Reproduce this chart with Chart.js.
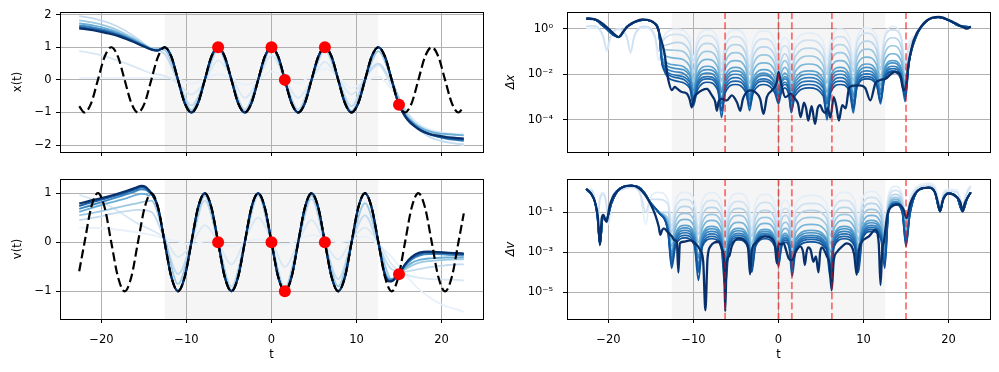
<!DOCTYPE html>
<html>
<head>
<meta charset="utf-8">
<script src="https://cdn.jsdelivr.net/npm/chart.js@4.4.1/dist/chart.umd.min.js"></script>
<style>
    html, body { margin: 0; padding: 0; background: #fff; }
    #fig { position: relative; width: 999px; height: 372px; overflow: hidden; }
    #fig canvas { position: absolute; }
</style>
</head>
<body>
<div id="fig">
    <canvas id="cX" width="495" height="165" style="left:0px;top:0px"></canvas>
    <canvas id="cV" width="495" height="207" style="left:0px;top:165px"></canvas>
    <canvas id="cDX" width="504" height="165" style="left:495px;top:0px"></canvas>
    <canvas id="cDV" width="504" height="207" style="left:495px;top:165px"></canvas>
</div>
<script>
// ---- axes ----
const tRange = [-24.88, 24.88];
const tTicks = [-20, -10, 0, 10, 20];
const shadeSpan = [-12.57, 12.57];
const xRange = [-2.21, 2.08];
const xTicks = [-2, -1, 0, 1, 2];
const vRange = [-1.565, 1.29];
const vTicks = [-1, 0, 1];
const dxRangeLog = [-5.41, 0.73];
const dxTicks = [1e-4, 1e-2, 1];
const dxTickLabels = ['10\u207B\u2074', '10\u207B\u00B2', '10\u2070'];
const dvRangeLog = [-6.33, 0.665];
const dvTicks = [1e-5, 1e-3, 1e-1];
const dvTickLabels = ['10\u207B\u2075', '10\u207B\u00B3', '10\u207B\u00B9'];

// ---- observations (red points / red dashed lines) ----
const obsT = [-6.28, 0, 1.57, 6.28, 15.0];
const obsX = [1, 1, 0, 1, -0.76];
const obsV = [0, 0, -1, 0, -0.65];

// ---- exact solution, read at quarter-half-period steps ----
const tGrid = [-22.62, -21.99, -21.21, -20.42, -19.63, -18.85, -18.06, -17.28, -16.49, -15.71, -14.92, -14.14, -13.35, -12.57, -11.78, -11.0, -10.21, -9.42, -8.64, -7.85, -7.07, -6.28, -5.5, -4.71, -3.93, -3.14, -2.36, -1.57, -0.79,
    0, 0.79, 1.57, 2.36, 3.14, 3.93, 4.71, 5.5, 6.28, 7.07, 7.85, 8.64, 9.42, 10.21, 11.0, 11.78, 12.57, 13.35, 14.14, 14.92, 15.71, 16.49, 17.28, 18.06, 18.85, 19.63, 20.42, 21.21, 21.99, 22.62];
const xTrue = [-0.81, -1, -0.71, 0, 0.71, 1, 0.71, 0, -0.71, -1, -0.71, 0, 0.71, 1, 0.71, 0, -0.71, -1, -0.71, 0, 0.71, 1, 0.71, 0, -0.71, -1, -0.71, 0, 0.71,
    1, 0.71, 0, -0.71, -1, -0.71, 0, 0.71, 1, 0.71, 0, -0.71, -1, -0.71, 0, 0.71, 1, 0.71, 0, -0.71, -1, -0.71, 0, 0.71, 1, 0.71, 0, -0.71, -1, -0.81];
const vTrue = [-0.59, 0, 0.71, 1, 0.71, 0, -0.71, -1, -0.71, 0, 0.71, 1, 0.71, 0, -0.71, -1, -0.71, 0, 0.71, 1, 0.71, 0, -0.71, -1, -0.71, 0, 0.71, 1, 0.71,
    0, -0.71, -1, -0.71, 0, 0.71, 1, 0.71, 0, -0.71, -1, -0.71, 0, 0.71, 1, 0.71, 0, -0.71, -1, -0.71, 0, 0.71, 1, 0.71, 0, -0.71, -1, -0.71, 0, 0.59];

const xFollow = [-12.57, 14.92];
const xTailLT = [-22.62, -21.0, -19.5, -18.0, -16.5, -15.0, -14.0, -13.4];
const xTailRT = [15.4, 16.0, 16.8, 17.6, 18.5, 19.5, 20.5, 21.5, 22.62];
const xDarkL = [1.58, 1.52, 1.44, 1.34, 1.19, 1.02, 0.92, 0.90];
const xDarkR = [-0.98, -1.22, -1.42, -1.56, -1.65, -1.71, -1.75, -1.78, -1.80];
const xFit1L = [1.62, 1.56, 1.48, 1.37, 1.21, 1.03, 0.92, 0.90];
const xFit1R = [-0.97, -1.2, -1.4, -1.55, -1.66, -1.73, -1.78, -1.81, -1.83];
const xFit2L = [1.67, 1.61, 1.52, 1.40, 1.24, 1.05, 0.93, 0.90];
const xFit2R = [-0.96, -1.18, -1.38, -1.53, -1.65, -1.74, -1.8, -1.84, -1.87];
const xFit3L = [1.73, 1.67, 1.58, 1.45, 1.27, 1.07, 0.94, 0.90];
const xFit3R = [-0.95, -1.15, -1.33, -1.47, -1.57, -1.63, -1.66, -1.68, -1.70];

// early fits, read at extrema / zero crossings
const tq = [-22.62, -21.99, -20.42, -18.85, -17.28, -15.71, -14.14, -12.57, -11.0, -9.42, -7.85, -6.28, -4.71, -3.14, -1.57, 0, 1.57, 3.14, 4.71, 6.28, 7.85, 9.42, 11.0, 12.57, 14.14, 15.71, 17.28, 18.85, 20.42, 21.99, 22.62];
const xFit4 = [1.82, 1.80, 1.72, 1.60, 1.42, 1.20, 0.97, 0.92, 0.0, -0.92, 0.0, 1.0, 0.0, -0.97, 0.0, 1.0, 0.0, -0.98, 0.0, 1.0, 0.0, -0.95, 0.0, 0.88, 0.0, -1.0, -1.45, -1.62, -1.72, -1.78, -1.80];
const xFit5 = [1.95, 1.93, 1.85, 1.72, 1.52, 1.25, 0.95, 0.80, -0.05, -0.78, -0.05, 0.92, 0.0, -0.9, 0.0, 0.98, 0.0, -0.9, 0.0, 0.9, 0.0, -0.8, 0.05, 0.5, -0.1, -0.9, -1.5, -1.78, -1.9, -1.96, -1.97];
const xFit6 = [0.88, 0.86, 0.78, 0.66, 0.52, 0.36, 0.2, 0.12, -0.1, -0.45, -0.05, 0.6, 0.1, -0.55, 0.0, 0.75, 0.05, -0.55, 0.0, 0.55, 0.05, -0.45, 0.05, 0.45, -0.2, -0.9, -1.35, -1.55, -1.63, -1.66, -1.67];
const xFit7 = [0.06, 0.06, 0.06, 0.06, 0.06, 0.06, 0.06, 0.06, 0.02, -0.12, 0.02, 0.18, 0.05, -0.15, 0.0, 0.25, 0.1, -0.1, 0.15, 0.35, 0.1, -0.25, -0.05, 0.1, -0.3, -0.9, -1.45, -1.75, -1.9, -1.97, -2.0];

// ---- fitted v(t) ----
const vFollow = [-14.14, 12.57];
const vTailLT = [-22.62, -21.5, -20.0, -18.5, -17.0, -16.0, -15.3, -14.8, -14.4];
const vTailRT = [13.35, 13.9, 14.3, 15.0, 15.7, 16.5, 17.4, 18.5, 19.5, 20.5, 21.5, 22.62];
const vDarkL = [0.79, 0.84, 0.90, 0.97, 1.05, 1.11, 1.15, 1.13, 1.06];
const vDarkR = [-0.68, -0.8, -0.78, -0.65, -0.45, -0.3, -0.21, -0.19, -0.2, -0.21, -0.22, -0.23];
const vFit1L = [0.74, 0.80, 0.87, 0.94, 1.02, 1.08, 1.12, 1.10, 1.04];
const vFit1R = [-0.66, -0.79, -0.77, -0.64, -0.46, -0.32, -0.24, -0.21, -0.21, -0.22, -0.23, -0.24];
const vFit2L = [0.68, 0.74, 0.82, 0.90, 0.98, 1.04, 1.08, 1.07, 1.02];
const vFit2R = [-0.64, -0.78, -0.76, -0.64, -0.48, -0.35, -0.27, -0.24, -0.24, -0.25, -0.26, -0.27];
const vFit3L = [0.62, 0.68, 0.76, 0.83, 0.90, 0.96, 0.99, 0.98, 0.95];
const vFit3R = [-0.62, -0.75, -0.74, -0.65, -0.52, -0.42, -0.36, -0.33, -0.32, -0.31, -0.31, -0.31];
const vFit4 = [0.55, 0.57, 0.62, 0.68, 0.74, 0.8, 0.85, 0.1, -0.85, 0, 0.95, 0, -0.97, 0, 0.98, 0, -0.97, 0, 0.95, 0, -0.9, 0, 0.8, 0, -0.75, -0.55, -0.42, -0.38, -0.36, -0.35, -0.35];
const vFit5 = [0.45, 0.47, 0.52, 0.58, 0.63, 0.66, 0.62, 0.05, -0.65, 0, 0.85, 0, -0.9, 0, 0.95, 0, -0.92, 0, 0.88, 0, -0.75, 0, 0.55, -0.05, -0.55, -0.6, -0.55, -0.5, -0.47, -0.45, -0.45];
const vFit6 = [0.97, 0.93, 0.85, 0.72, 0.55, 0.38, 0.25, 0.08, -0.3, -0.05, 0.35, 0, -0.45, 0.05, 0.5, 0.05, -0.5, 0, 0.45, 0, -0.35, 0.05, 0.3, 0, -0.45, -0.65, -0.72, -0.75, -0.76, -0.77, -0.78];
const vFit7 = [0.3, 0.3, 0.29, 0.27, 0.24, 0.2, 0.15, 0.08, 0.02, -0.05, 0.02, 0.0, -0.08, 0.0, 0.06, 0.02, -0.05, 0.05, 0.15, 0.08, 0.0, 0.05, 0.12, -0.05, -0.3, -0.65, -0.95, -1.15, -1.3, -1.38, -1.42];

// ---- error |x_fit - x|, in decades (log10) ----
const dxNavyT = [-22.62, -21.5, -20.8, -20.0, -19.3, -18.8, -18.3, -17.6, -16.8, -16.0, -15.4, -14.8, -14.3, -13.8, -13.4, -13.1, -12.9, -12.55, -12.2, -11.96,
    -11.37, -10.78, -10.45, -10.2, -9.9, -9.6, -9.0, -8.42, -7.84, -7.45, -7.25, -7.05, -6.66, -6.08, -5.49, -4.9, -4.5, -4.2, -3.9, -3.33,
    -2.75, -2.16, -1.76, -1.37, -0.78, -0.2, 0.0, 0.2, 0.4, 0.8, 1.1, 1.4, 1.7, 2.0, 2.3, 2.6, 3.0, 3.25, 3.5, 3.9,
    4.3, 4.6, 4.9, 5.2, 5.5, 5.8, 6.1, 6.5, 6.8, 7.1, 7.5, 7.9, 8.3, 8.9, 9.5, 10.2, 10.8, 11.4, 12.0, 12.6,
    13.2, 13.7, 14.3, 14.7, 14.95, 15.3, 15.9, 16.9, 18.1, 18.9, 20.1, 21.0, 21.7, 22.2, 22.62];
const dxNavyL = [0.44, 0.40, 0.25, 0.0, -0.25, -0.37, -0.15, 0.15, 0.32, 0.40, 0.38, 0.30, 0.10, -0.5, -1.1, -1.95, -2.35, -2.7, -2.55, -2.62,
    -2.78, -2.85, -3.1, -3.45, -3.0, -2.86, -2.7, -2.64, -2.93, -3.2, -3.6, -3.2, -3.08, -3.15, -2.93, -3.22, -3.6, -3.1, -2.86, -2.71,
    -2.78, -3.08, -3.74, -3.0, -2.71, -2.35, -1.9, -2.2, -2.57, -3.0, -2.95, -2.85, -2.95, -3.1, -3.3, -3.88, -3.25, -3.5, -4.03, -3.4,
    -4.18, -3.5, -3.35, -3.6, -3.7, -3.5, -3.9, -3.0, -3.4, -4.03, -3.35, -3.5, -2.6, -2.5, -2.49, -2.6, -3.15, -2.4, -2.25, -2.2,
    -2.0, -1.9, -2.0, -2.71, -2.6, -1.54, -0.51, 0.15, 0.48, 0.51, 0.36, 0.2, 0.07, 0.0, 0.1];

// earlier fits: arches between shared cusps
const dxArcT = [-22.62, -21.6, -20.65, -20.2, -19.75, -18.8, -17.85, -17.4, -16.95, -15.75, -14.55, -14.1,
    -13.65, -12.0, -10.45, -10.0, -9.55, -8.35, -7.15, -6.7, -6.25, -5.05, -3.85, -3.4, -2.95, -1.7, -0.45, 0.0, 0.3, 0.75, 1.2, 1.5,
    1.95, 3.6, 5.25, 5.7, 6.15, 7.25, 8.35, 8.8, 9.25, 10.4, 11.55, 12.0, 12.45, 13.45, 14.45, 14.9, 15.35,
    16.3, 17.5, 18.8, 20.0, 21.5, 22.62];
const dxLeftShared = [0.44, 0.40, 0.12, -0.02, -0.18, -0.37, 0.08, 0.18, 0.28, 0.38, 0.22, -0.07];
const dxRightShared = [-0.25, 0.35, 0.5, 0.37, 0.1, 0.08];
const dxLeftA = [0.0, 0.03, -0.35, -1.0, -0.4, -0.03, -0.4, -1.1, -0.35, 0.03, -0.4, -1.4];
const dxLeftB = [0.1, 0.12, -0.3, -0.9, -0.3, 0.0, -0.35, -1.0, -0.3, 0.1, -0.3, -1.0];
const dxMidA = [-0.45, -0.02, -0.4, -1.3, -0.45, -0.05, -0.45, -1.3, -0.45, -0.05, -0.45, -1.4, -0.5, -0.1, -0.5, -1.3, -0.6, -0.4, -0.6, -1.4, -0.55, -0.2, -0.55, -1.4, -0.45, -0.02, -0.4, -1.3, -0.4, 0.02, -0.35, -1.3, -0.35, 0.1, -0.35, -1.5, -0.6];
const dxMidB = [-0.55, -0.25, -0.65, -1.5, -0.7, -0.3, -0.7, -1.6, -0.75, -0.35, -0.75, -1.7, -0.85, -0.45, -0.85, -1.6, -0.95, -0.75, -0.95, -1.8, -0.9, -0.5, -0.9, -1.8, -0.75, -0.35, -0.75, -1.6, -0.6, -0.2, -0.6, -1.5, -0.45, -0.05, -0.45, -1.6, -0.8];
const dxMidC = [-0.75, -0.6, -1.0, -1.9, -1.05, -0.65, -1.05, -1.9, -1.1, -0.7, -1.1, -2.0, -1.2, -0.8, -1.2, -1.9, -1.4, -1.1, -1.4, -2.1, -1.25, -0.85, -1.25, -2.0, -1.1, -0.7, -1.1, -1.9, -0.95, -0.55, -0.95, -1.8, -0.8, -0.4, -0.8, -1.8, -1.2];
const dxMidD = [-0.9, -0.95, -1.35, -2.3, -1.4, -1.0, -1.4, -2.3, -1.45, -1.05, -1.45, -2.4, -1.55, -1.15, -1.55, -2.3, -1.7, -1.4, -1.7, -2.5, -1.6, -1.2, -1.6, -2.4, -1.45, -1.05, -1.45, -2.3, -1.3, -0.9, -1.3, -2.2, -1.15, -0.75, -1.15, -2.1, -1.3];
const dxMidE = [-1.1, -1.3, -1.65, -2.6, -1.7, -1.35, -1.7, -2.7, -1.75, -1.4, -1.75, -2.7, -1.85, -1.5, -1.85, -2.6, -2.0, -1.7, -2.0, -2.8, -1.9, -1.55, -1.9, -2.8, -1.75, -1.4, -1.75, -2.6, -1.6, -1.25, -1.6, -2.5, -1.45, -1.1, -1.45, -2.4, -1.35];
const dxMidF = [-1.3, -1.6, -1.95, -2.9, -2.0, -1.65, -2.0, -3.1, -2.05, -1.7, -2.05, -3.0, -2.15, -1.8, -2.15, -2.8, -2.25, -1.95, -2.25, -3.1, -2.2, -1.85, -2.2, -3.2, -2.05, -1.7, -2.05, -3.0, -1.9, -1.55, -1.9, -2.8, -1.75, -1.4, -1.75, -2.7, -1.4];
const dxMidF2 = [-1.4, -1.75, -2.05, -2.7, -2.1, -1.8, -2.1, -2.8, -2.2, -1.85, -2.2, -2.9, -2.3, -1.95, -2.3, -2.7, -2.35, -2.1, -2.35, -3.0, -2.35, -2.0, -2.35, -3.1, -2.2, -1.85, -2.2, -2.9, -2.05, -1.7, -2.05, -2.7, -1.85, -1.5, -1.85, -2.6, -1.42];
const dxMidG = [-1.5, -1.9, -2.25, -3.2, -2.3, -1.95, -2.3, -3.6, -2.35, -2.0, -2.35, -3.3, -2.4, -2.05, -2.4, -3.0, -2.45, -2.2, -2.45, -3.4, -2.5, -2.15, -2.5, -3.6, -2.35, -2.0, -2.35, -3.4, -2.2, -1.85, -2.2, -3.1, -2.0, -1.65, -2.0, -3.0, -1.45];
const dxMidG2 = [-1.55, -2.05, -2.35, -3.0, -2.4, -2.1, -2.4, -3.3, -2.5, -2.15, -2.5, -3.1, -2.5, -2.2, -2.5, -2.9, -2.55, -2.35, -2.6, -3.2, -2.65, -2.3, -2.6, -3.3, -2.5, -2.15, -2.5, -3.2, -2.3, -1.98, -2.3, -2.9, -2.1, -1.75, -2.1, -2.9, -1.48];
const dxMidH = [-1.6, -2.15, -2.5, -3.4, -2.55, -2.2, -2.55, -3.9, -2.65, -2.3, -2.65, -3.6, -2.65, -2.3, -2.65, -3.2, -2.7, -2.45, -2.7, -3.7, -2.8, -2.45, -2.8, -4.0, -2.65, -2.3, -2.65, -3.7, -2.45, -2.1, -2.45, -3.3, -2.2, -1.85, -2.2, -3.2, -1.5];
const dxMidH2 = [-1.65, -2.3, -2.6, -3.3, -2.7, -2.35, -2.7, -3.6, -2.8, -2.45, -2.8, -3.4, -2.8, -2.45, -2.8, -3.3, -2.85, -2.6, -2.9, -3.6, -2.95, -2.6, -2.95, -3.8, -2.8, -2.45, -2.75, -3.5, -2.55, -2.2, -2.5, -3.2, -2.25, -1.9, -2.25, -3.0, -1.5];

// ---- error |v_fit - v|, in decades ----
const dvNavyT = [-22.62, -22.0, -21.6, -21.25, -21.0, -20.8, -20.6, -20.35, -20.2, -19.9, -19.5, -19.0, -18.2, -17.3, -16.4, -15.7, -15.1, -14.5, -14.1, -13.9,
    -13.7, -13.5, -13.0, -12.55, -12.2, -11.96, -11.78, -11.6, -11.2, -10.4, -9.8, -9.2, -8.85, -8.6, -8.35, -8.0, -7.5, -7.0, -6.6, -6.4,
    -6.27, -6.1, -5.8, -5.5, -4.7, -3.9, -3.55, -3.35, -3.15, -2.75, -1.6, -0.8, -0.4, -0.2, 0.0, 0.2, 0.6, 0.9, 1.2, 1.6,
    2.0, 2.55, 2.9, 3.1, 3.3, 3.5, 3.8, 4.1, 4.4, 4.7, 4.9, 5.1, 5.7, 6.0, 6.25, 6.5, 6.9, 7.5, 8.0, 8.6,
    8.9, 9.2, 9.45, 9.8, 10.6, 11.4, 11.8, 12.0, 12.2, 12.4, 12.8, 13.3, 14.1, 14.7, 15.05, 15.5, 16.5, 17.7, 18.4, 18.75,
    19.0, 19.3, 20.0, 21.0, 21.4, 21.65, 21.9, 22.2, 22.62];
const dvNavyL = [0.17, -0.1, -0.47, -1.2, -2.64, -1.3, -1.13, -1.4, -1.47, -0.75, -0.25, 0.05, 0.28, 0.33, 0.2, -0.13, -0.55, -1.13, -1.7, -2.13,
    -1.9, -1.8, -2.0, -2.2, -2.4, -2.47, -4.0, -2.55, -2.47, -2.4, -2.55, -2.9, -3.5, -5.9, -3.3, -2.7, -2.5, -2.47, -2.9, -3.3,
    -5.95, -3.5, -3.2, -2.7, -2.3, -2.47, -2.9, -4.1, -2.95, -2.55, -2.2, -2.3, -2.7, -3.55, -2.55, -2.6, -2.55, -2.9, -3.3, -3.4,
    -3.0, -2.7, -3.0, -3.63, -3.0, -2.75, -2.9, -3.47, -3.2, -4.0, -3.0, -2.75, -3.2, -3.6, -4.9, -3.4, -2.97, -2.7, -2.55, -2.7,
    -3.1, -4.13, -2.9, -2.47, -2.22, -1.88, -2.6, -4.63, -2.9, -2.47, -1.13, -0.72, -0.6, -0.85, -1.3, -0.55, 0.12, 0.23, 0.0, -0.5,
    -0.95, -0.45, -0.05, -0.25, -0.5, -0.95, -0.55, -0.3, 0.0];

const dvArcT = [-22.62, -22.0, -21.6, -21.3, -21.0, -20.65, -20.3, -20.0, -19.65, -18.6, -17.3, -16.3, -15.6, -15.1, -14.1,
    -13.0, -12.57, -12.1, -11.0, -9.9, -9.42, -8.95, -7.85, -6.75, -6.28, -5.8, -4.71, -3.6, -3.14, -2.7, -1.57, -0.45, 0.0, 0.35, 0.8,
    1.25, 1.6, 2.05, 3.85, 5.65, 6.1, 6.55, 7.75, 8.95, 9.4, 9.85, 10.95, 12.05, 12.5, 12.95, 13.75, 14.55, 15.0, 15.45,
    16.5, 17.7, 18.4, 19.0, 19.4, 20.0, 21.0, 21.65, 22.2, 22.62];
const dvLeftShared = [0.17, -0.1, -0.47, -1.2, -2.6, -1.2, -1.4, -1.1, -0.55, 0.2, 0.33, 0.22, -0.13, -0.5, -1.0];
const dvRightShared = [0.12, 0.23, 0.0, -0.95, -0.3, -0.05, -0.25, -0.95, -0.3, 0.0];
const dvLeftA = [0.1, 0.15, -0.3, -1.3, -0.2, 0.0, -0.3, -1.3, -0.3, 0.2, 0.3, -0.1, -1.6, -0.3, 0.0];
const dvLeftB = [0.0, 0.1, -0.4, -1.5, -0.35, -0.1, -0.45, -1.6, -0.4, 0.1, 0.25, 0.0, -1.0, -0.35, -0.35];
const dvRightA = [0.35, 0.45, 0.3, -0.6, 0.0, 0.15, 0.1, -0.5, 0.1, 0.35];
const dvRightB = [0.25, 0.35, 0.2, -0.8, -0.1, 0.05, 0.0, -0.7, 0.0, 0.25];
const dvMidA = [-0.4, -1.4, -0.4, 0.0, -0.4, -1.4, -0.42, -0.02, -0.42, -1.5, -0.45, -0.05, -0.45, -1.5, -0.5, -0.1, -0.55, -1.5, -0.65, -0.4, -0.65, -1.6, -0.55, -0.15, -0.55, -1.5, -0.4, 0.0, -0.4, -1.4, -0.35, 0.05, -0.35, -1.3, -0.1, 0.3, -0.1, -1.2, -0.3];
const dvMidB = [-0.6, -1.7, -0.75, -0.35, -0.75, -1.8, -0.8, -0.4, -0.8, -1.85, -0.85, -0.45, -0.85, -1.9, -0.9, -0.5, -0.9, -1.9, -1.05, -0.8, -1.05, -2.0, -0.95, -0.55, -0.95, -1.9, -0.8, -0.4, -0.8, -1.7, -0.65, -0.25, -0.65, -1.6, -0.3, 0.1, -0.3, -1.4, -0.5];
const dvMidC = [-1.0, -2.0, -1.1, -0.7, -1.1, -2.1, -1.15, -0.75, -1.15, -2.2, -1.2, -0.8, -1.2, -2.2, -1.3, -0.9, -1.3, -2.3, -1.4, -1.15, -1.4, -2.4, -1.3, -0.9, -1.3, -2.2, -1.15, -0.75, -1.15, -2.0, -0.95, -0.55, -0.95, -1.9, -0.5, -0.1, -0.5, -1.6, -0.7];
const dvMidD = [-1.3, -2.4, -1.45, -1.05, -1.45, -2.5, -1.5, -1.1, -1.5, -2.6, -1.55, -1.15, -1.55, -2.6, -1.65, -1.25, -1.65, -2.7, -1.75, -1.5, -1.75, -2.8, -1.65, -1.25, -1.65, -2.6, -1.5, -1.1, -1.5, -2.4, -1.25, -0.85, -1.25, -2.2, -0.65, -0.25, -0.65, -1.8, -0.8];
const dvMidE = [-1.5, -2.7, -1.75, -1.35, -1.75, -2.8, -1.8, -1.4, -1.8, -3.0, -1.9, -1.5, -1.9, -2.9, -1.95, -1.55, -1.95, -3.0, -2.05, -1.8, -2.05, -3.1, -2.0, -1.6, -2.0, -3.0, -1.8, -1.4, -1.8, -2.7, -1.55, -1.15, -1.55, -2.5, -0.75, -0.35, -0.75, -2.0, -0.9];
const dvMidF = [-1.7, -3.0, -2.05, -1.65, -2.05, -3.2, -2.1, -1.7, -2.1, -3.4, -2.2, -1.8, -2.2, -3.2, -2.25, -1.85, -2.25, -3.3, -2.3, -2.05, -2.3, -3.4, -2.3, -1.9, -2.3, -3.4, -2.1, -1.7, -2.1, -3.1, -1.8, -1.4, -1.8, -2.8, -0.85, -0.45, -0.85, -2.2, -1.0];
const dvMidF2 = [-1.75, -3.1, -2.15, -1.78, -2.15, -3.3, -2.2, -1.82, -2.2, -3.5, -2.3, -1.92, -2.3, -3.3, -2.35, -1.95, -2.35, -3.4, -2.4, -2.15, -2.4, -3.5, -2.4, -2.02, -2.4, -3.5, -2.2, -1.82, -2.2, -3.2, -1.9, -1.52, -1.9, -2.9, -0.88, -0.48, -0.88, -2.3, -1.02];
const dvMidG = [-1.85, -3.3, -2.3, -1.9, -2.3, -3.6, -2.35, -1.95, -2.35, -3.8, -2.45, -2.05, -2.45, -3.5, -2.45, -2.05, -2.45, -3.5, -2.5, -2.25, -2.5, -3.7, -2.55, -2.15, -2.55, -3.7, -2.35, -1.95, -2.35, -3.4, -2.05, -1.65, -2.05, -3.2, -0.9, -0.52, -0.9, -2.4, -1.05];
const dvMidG2 = [-1.9, -3.4, -2.4, -2.02, -2.4, -3.8, -2.45, -2.08, -2.45, -4.0, -2.55, -2.15, -2.55, -3.6, -2.5, -2.12, -2.5, -3.5, -2.55, -2.32, -2.55, -3.8, -2.65, -2.25, -2.65, -3.9, -2.45, -2.08, -2.45, -3.5, -2.15, -1.75, -2.15, -3.4, -0.92, -0.55, -0.92, -2.5, -1.08];
const dvMidH = [-1.95, -3.6, -2.55, -2.15, -2.55, -4.0, -2.6, -2.2, -2.6, -4.3, -2.65, -2.25, -2.65, -3.8, -2.6, -2.2, -2.6, -3.6, -2.65, -2.4, -2.65, -3.9, -2.75, -2.35, -2.75, -4.0, -2.6, -2.2, -2.6, -3.7, -2.25, -1.85, -2.25, -3.6, -0.95, -0.58, -0.95, -2.6, -1.1];
const dvMidH2 = [-2.0, -3.8, -2.65, -2.28, -2.65, -4.4, -2.7, -2.32, -2.7, -4.8, -2.75, -2.38, -2.75, -4.0, -2.7, -2.32, -2.7, -3.7, -2.75, -2.5, -2.75, -4.2, -2.85, -2.48, -2.85, -4.3, -2.7, -2.32, -2.7, -4.0, -2.35, -1.95, -2.35, -3.8, -0.98, -0.6, -0.98, -2.7, -1.12];

// light -> dark, like the Blues colormap
const fitColors = ['#e8f1fa', '#d9e8f5', '#c4daee', '#9dc9e1', '#6aaed6', '#3b87c0', '#1c5fa5', '#08306b'];
const errColors = ['#e3eef8', '#d0e1f2', '#b7d4ea', '#9cc8e2', '#79b5d9', '#5ca2cf', '#4692c6', '#3582bf', '#2472b5', '#1863a9', '#0e539b', '#08306b'];

Chart.defaults.font.family = "'DejaVu Sans', sans-serif";
Chart.defaults.font.size = 11.5;
Chart.defaults.color = '#000';

function pts(ts, vals) {
    return ts.map(function (t, i) { return { x: t, y: vals[i] }; });
}

function logPts(ts, logs) {
    return ts.map(function (t, i) { return { x: t, y: Math.pow(10, logs[i]) }; });
}

function gridPart(vals, span) {
    return pts(tGrid, vals).filter(function (p) { return p.x >= span[0] && p.x <= span[1]; });
}

function lateFit(tl, left, vals, span, tr, right) {
    return pts(tl, left).concat(gridPart(vals, span), pts(tr, right));
}

function line(data, color, width, extra) {
    return Object.assign({
        data: data,
        borderColor: color,
        borderWidth: width,
        pointRadius: 0,
        pointHoverRadius: 0,
        fill: false,
        cubicInterpolationMode: 'monotone'
    }, extra || {});
}

function fmtNum(v) {
    return v < 0 ? '\u2212' + Math.abs(v) : String(v);
}

// shaded window, red observation lines and the axes frame
const panelDecor = {
    id: 'panelDecor',
    beforeDraw: function (chart, args, opts) {
        const a = chart.chartArea;
        const x = chart.scales.x;
        const x0 = x.getPixelForValue(opts.shade[0]);
        const x1 = x.getPixelForValue(opts.shade[1]);
        chart.ctx.save();
        chart.ctx.fillStyle = '#f5f5f5';
        chart.ctx.fillRect(x0, a.top, x1 - x0, a.bottom - a.top);
        chart.ctx.restore();
    },
    afterDatasetsDraw: function (chart, args, opts) {
        const ctx = chart.ctx;
        const a = chart.chartArea;
        const x = chart.scales.x;
        ctx.save();
        if (opts.vlines) {
            ctx.strokeStyle = 'rgba(255,0,0,0.55)';
            ctx.lineWidth = 1.8;
            ctx.setLineDash([7, 3.3]);
            opts.vlines.forEach(function (t) {
                const px = x.getPixelForValue(t);
                ctx.beginPath();
                ctx.moveTo(px, a.top);
                ctx.lineTo(px, a.bottom);
                ctx.stroke();
            });
            ctx.setLineDash([]);
        }
        ctx.strokeStyle = '#000';
        ctx.lineWidth = 1;
        ctx.strokeRect(Math.round(a.left) + 0.5, Math.round(a.top) + 0.5,
            Math.round(a.right - a.left), Math.round(a.bottom - a.top));
        ctx.restore();
    }
};

const gridStyle = { color: '#b0b0b0', lineWidth: 1, drawTicks: true, tickLength: 4, tickColor: '#000', tickWidth: 1 };

function makePanel(id, geom, yAxis, bottomFirst, decor) {
    return new Chart(document.getElementById(id), {
        type: 'line',
        data: { datasets: bottomFirst.slice().reverse() }, // index 0 is drawn last
        options: {
            responsive: false,
            animation: false,
            devicePixelRatio: 1,
            events: [],
            layout: { autoPadding: false, padding: { top: geom.padTop, right: geom.padRight, left: 0, bottom: 0 } },
            plugins: { legend: { display: false }, tooltip: { enabled: false }, panelDecor: decor },
            scales: {
                x: {
                    type: 'linear', min: tRange[0], max: tRange[1],
                    afterBuildTicks: function (s) { s.ticks = tTicks.map(function (v) { return { value: v }; }); },
                    afterFit: function (s) {
                        s.height = geom.xHeight;
                        s.paddingLeft = 0;
                        s.paddingRight = 0;
                    },
                    ticks: { display: geom.xLabels, autoSkip: false, maxRotation: 0, padding: 10, callback: fmtNum },
                    grid: gridStyle,
                    border: { display: false },
                    title: { display: geom.xLabels, text: 't', padding: { top: 0, bottom: 10 } }
                },
                y: {
                    type: yAxis.type, min: yAxis.min, max: yAxis.max,
                    afterBuildTicks: function (s) { s.ticks = yAxis.ticks.map(function (v) { return { value: v }; }); },
                    afterFit: function (s) {
                        s.width = geom.yWidth;
                        s.paddingTop = 0;
                        s.paddingBottom = 0;
                    },
                    ticks: {
                        autoSkip: false, padding: yAxis.tickPad,
                        callback: function (v, i) { return yAxis.labels ? yAxis.labels[i] : fmtNum(v); }
                    },
                    grid: gridStyle,
                    border: { display: false },
                    title: { display: true, text: yAxis.title, padding: { top: yAxis.titlePad, bottom: 0 }, font: yAxis.titleFont || {} }
                }
            }
        },
        plugins: [panelDecor]
    });
}

const dotStyle = { showLine: false, pointRadius: 6, pointBackgroundColor: '#ff0000', pointBorderWidth: 0 };

// ---- x(t) ----
const xSets = [
    line(pts(tq, xFit7), fitColors[0], 1.8),
    line(pts(tq, xFit6), fitColors[1], 1.8),
    line(pts(tq, xFit5), fitColors[2], 1.8),
    line(pts(tq, xFit4), fitColors[3], 1.8),
    line(lateFit(xTailLT, xFit3L, xTrue, xFollow, xTailRT, xFit3R), fitColors[4], 1.9),
    line(lateFit(xTailLT, xFit2L, xTrue, xFollow, xTailRT, xFit2R), fitColors[5], 1.9),
    line(lateFit(xTailLT, xFit1L, xTrue, xFollow, xTailRT, xFit1R), fitColors[6], 2),
    line(lateFit(xTailLT, xDarkL, xTrue, xFollow, xTailRT, xDarkR), fitColors[7], 2.2),
    line(pts(tGrid, xTrue), '#000', 2.2, { borderDash: [9, 4] }),
    line(pts(obsT, obsX), '#ff0000', 0, dotStyle)
];

// ---- v(t) ----
const vSets = [
    line(pts(tq, vFit7), fitColors[0], 1.8),
    line(pts(tq, vFit6), fitColors[1], 1.8),
    line(pts(tq, vFit5), fitColors[2], 1.8),
    line(pts(tq, vFit4), fitColors[3], 1.8),
    line(lateFit(vTailLT, vFit3L, vTrue, vFollow, vTailRT, vFit3R), fitColors[4], 1.9),
    line(lateFit(vTailLT, vFit2L, vTrue, vFollow, vTailRT, vFit2R), fitColors[5], 1.9),
    line(lateFit(vTailLT, vFit1L, vTrue, vFollow, vTailRT, vFit1R), fitColors[6], 2),
    line(lateFit(vTailLT, vDarkL, vTrue, vFollow, vTailRT, vDarkR), fitColors[7], 2.2),
    line(pts(tGrid, vTrue), '#000', 2.2, { borderDash: [9, 4] }),
    line(pts(obsT, obsV), '#ff0000', 0, dotStyle)
];

// ---- errors ----
const dxMids = [dxMidA, dxMidB, dxMidC, dxMidD, dxMidE, dxMidF, dxMidF2, dxMidG, dxMidG2, dxMidH, dxMidH2];
const dxSets = dxMids.map(function (mid, i) {
    const left = i === 0 ? dxLeftA : (i === 1 ? dxLeftB : dxLeftShared);
    return line(logPts(dxArcT, left.concat(mid, dxRightShared)), errColors[i], 1.7);
});
dxSets.push(line(logPts(dxNavyT, dxNavyL), errColors[11], 2.3));

const dvMids = [dvMidA, dvMidB, dvMidC, dvMidD, dvMidE, dvMidF, dvMidF2, dvMidG, dvMidG2, dvMidH, dvMidH2];
const dvSets = dvMids.map(function (mid, i) {
    const left = i === 0 ? dvLeftA : (i === 1 ? dvLeftB : dvLeftShared);
    const right = i === 0 ? dvRightA : (i === 1 ? dvRightB : dvRightShared);
    return line(logPts(dvArcT, left.concat(mid, right)), errColors[i], 1.7);
});
dvSets.push(line(logPts(dvNavyT, dvNavyL), errColors[11], 2.3));

makePanel('cX', { padTop: 12, padRight: 12, yWidth: 60, xHeight: 13, xLabels: false },
    { type: 'linear', min: xRange[0], max: xRange[1], ticks: xTicks, title: 'x(t)', titlePad: 11, tickPad: 4.5 },
    xSets, { shade: shadeSpan });

makePanel('cV', { padTop: 14, padRight: 12, yWidth: 60, xHeight: 53, xLabels: true },
    { type: 'linear', min: vRange[0], max: vRange[1], ticks: vTicks, title: 'v(t)', titlePad: 11, tickPad: 4.5 },
    vSets, { shade: shadeSpan });

makePanel('cDX', { padTop: 12, padRight: 9, yWidth: 72, xHeight: 13, xLabels: false },
    { type: 'logarithmic', min: Math.pow(10, dxRangeLog[0]), max: Math.pow(10, dxRangeLog[1]), ticks: dxTicks, labels: dxTickLabels,
      title: '\u0394x', titlePad: 9, tickPad: 10, titleFont: { style: 'italic' } },
    dxSets, { shade: shadeSpan, vlines: obsT });

makePanel('cDV', { padTop: 14, padRight: 9, yWidth: 72, xHeight: 53, xLabels: true },
    { type: 'logarithmic', min: Math.pow(10, dvRangeLog[0]), max: Math.pow(10, dvRangeLog[1]), ticks: dvTicks, labels: dvTickLabels,
      title: '\u0394v', titlePad: 9, tickPad: 10, titleFont: { style: 'italic' } },
    dvSets, { shade: shadeSpan, vlines: obsT });
</script>
</body>
</html>
